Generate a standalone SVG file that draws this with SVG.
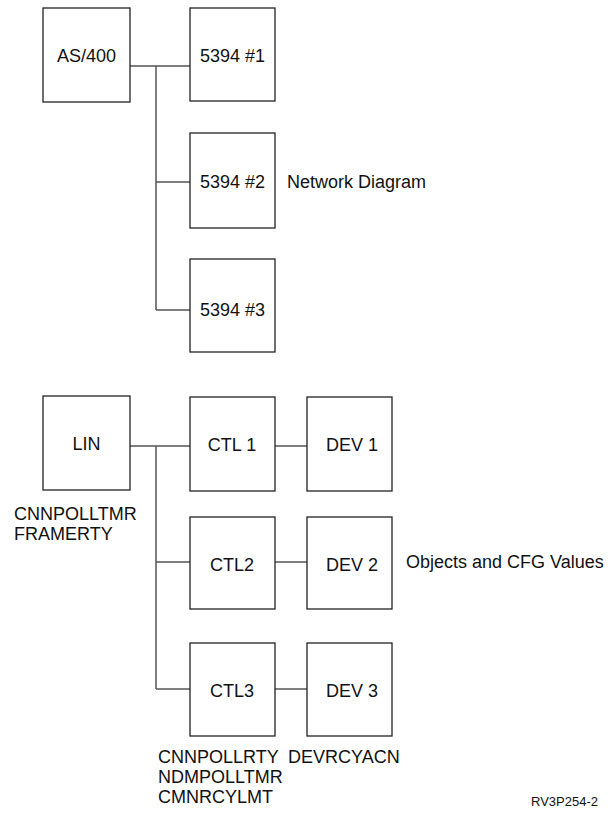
<svg xmlns="http://www.w3.org/2000/svg" width="608" height="823" viewBox="0 0 608 823">
<style>
.box{fill:#fff;stroke:#222;stroke-width:1.3}
.t{font-family:"Liberation Sans",Arial,Helvetica,sans-serif;font-size:18px;fill:#111}
.c{text-anchor:middle}
.con line{stroke:#555;stroke-width:1.5}
</style>
<rect width="608" height="823" fill="#fff"/>
<g id="connectors" class="con">
<line x1="130" y1="66" x2="193" y2="66"/>
<line x1="156" y1="66" x2="156" y2="310"/>
<line x1="156" y1="182" x2="190" y2="182"/>
<line x1="156" y1="310" x2="190" y2="310"/>
<line x1="130" y1="446" x2="190" y2="446"/>
<line x1="156" y1="446" x2="156" y2="689"/>
<line x1="156" y1="562" x2="190" y2="562"/>
<line x1="156" y1="689" x2="190" y2="689"/>
<line x1="275" y1="446" x2="307" y2="446"/>
<line x1="275" y1="562" x2="307" y2="562"/>
<line x1="275" y1="689" x2="307" y2="689"/>
</g>
<g id="as400"><rect class="box" x="43" y="8" width="87" height="94"/><text class="t c" x="86.5" y="62">AS/400</text></g>
<g id="n5394-1"><rect class="box" x="190" y="8" width="85" height="93"/><text class="t c" x="232.5" y="62">5394 #1</text></g>
<g id="n5394-2"><rect class="box" x="190" y="133" width="85" height="95"/><text class="t c" x="232.5" y="188">5394 #2</text></g>
<g id="n5394-3"><rect class="box" x="190" y="259" width="85" height="93"/><text class="t c" x="232.5" y="316">5394 #3</text></g>
<text class="t" x="287" y="188">Network Diagram</text>
<g id="lin"><rect class="box" x="43" y="396" width="87" height="94"/><text class="t c" x="86.5" y="450">LIN</text>
<text class="t" x="14" y="520">CNNPOLLTMR</text><text class="t" x="14" y="540">FRAMERTY</text></g>
<g id="ctl1"><rect class="box" x="190" y="397" width="85" height="94"/><text class="t c" x="232" y="451">CTL 1</text></g>
<g id="ctl2"><rect class="box" x="190" y="517" width="85" height="92"/><text class="t c" x="232" y="571">CTL2</text></g>
<g id="ctl3"><rect class="box" x="190" y="643" width="85" height="93"/><text class="t c" x="232" y="697">CTL3</text>
<text class="t" x="158" y="763">CNNPOLLRTY</text><text class="t" x="158" y="783">NDMPOLLTMR</text><text class="t" x="158" y="803">CMNRCYLMT</text></g>
<g id="dev1"><rect class="box" x="307" y="397" width="85" height="94"/><text class="t c" x="352" y="451">DEV 1</text></g>
<g id="dev2"><rect class="box" x="307" y="517" width="85" height="92"/><text class="t c" x="352" y="571">DEV 2</text></g>
<g id="dev3"><rect class="box" x="307" y="643" width="85" height="93"/><text class="t c" x="352" y="697">DEV 3</text>
<text class="t" x="288" y="763">DEVRCYACN</text></g>
<text class="t" x="406" y="568">Objects and CFG Values</text>
<text class="t" x="598" y="806" style="font-size:13px;text-anchor:end">RV3P254-2</text>
</svg>
